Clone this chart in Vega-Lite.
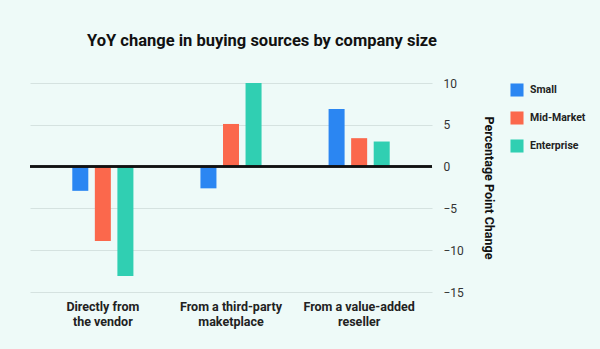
{
  "$schema": "https://vega.github.io/schema/vega-lite/v6.json",
  "width": 402,
  "height": 209,
  "autosize": {"type": "none"},
  "padding": {"left": 30, "top": 83, "right": 168, "bottom": 57},
  "background": "#eefaf8",
  "title": {
    "text": "YoY change in buying sources by company size",
    "font": "Roboto",
    "fontSize": 16.5,
    "fontWeight": "bold",
    "color": "#111111",
    "anchor": "middle",
    "dx": 31,
    "offset": 28
  },
  "data": {
    "values": [
      {"source": "Directly from the vendor", "size": "Small", "change": -2.9},
      {"source": "Directly from the vendor", "size": "Mid-Market", "change": -8.9},
      {"source": "Directly from the vendor", "size": "Enterprise", "change": -13.1},
      {"source": "From a third-party maketplace", "size": "Small", "change": -2.6},
      {"source": "From a third-party maketplace", "size": "Mid-Market", "change": 5.1},
      {"source": "From a third-party maketplace", "size": "Enterprise", "change": 10.0},
      {"source": "From a value-added reseller", "size": "Small", "change": 6.9},
      {"source": "From a value-added reseller", "size": "Mid-Market", "change": 3.4},
      {"source": "From a value-added reseller", "size": "Enterprise", "change": 3.0}
    ]
  },
  "config": {"view": {"stroke": null}},
  "layer": [
    {
      "mark": {"type": "bar"},
      "encoding": {
        "x": {
          "field": "source",
          "type": "nominal",
          "sort": null,
          "scale": {"paddingInner": 0.523, "paddingOuter": 0.33},
          "axis": {
            "title": null,
            "orient": "bottom",
            "domain": false,
            "ticks": false,
            "labelAngle": 0,
            "labelFont": "Roboto",
            "labelFontWeight": "bold",
            "labelFontSize": 12.5,
            "labelColor": "#222222",
            "labelPadding": 8,
            "labelLineHeight": 15,
            "labelExpr": "datum.value == 'Directly from the vendor' ? ['Directly from', 'the vendor'] : datum.value == 'From a third-party maketplace' ? ['From a third-party', 'maketplace'] : ['From a value-added', 'reseller']"
          }
        },
        "xOffset": {
          "field": "size",
          "type": "nominal",
          "sort": ["Small", "Mid-Market", "Enterprise"],
          "scale": {"paddingInner": 0.29, "paddingOuter": 0}
        },
        "y": {
          "field": "change",
          "type": "quantitative",
          "scale": {"domain": [-15, 10], "nice": false},
          "axis": {
            "orient": "right",
            "title": "Percentage Point Change",
            "titleFont": "Roboto",
            "titleFontWeight": "bold",
            "titleFontSize": 12.5,
            "titleColor": "#111111",
            "titleAngle": 90,
            "titlePadding": 18,
            "values": [-15, -10, -5, 0, 5, 10],
            "domain": false,
            "ticks": false,
            "labelFont": "Roboto",
            "labelFontSize": 12,
            "labelColor": "#333333",
            "labelPadding": 11,
            "gridColor": "#d5e2e0",
            "gridWidth": 1
          }
        },
        "color": {
          "field": "size",
          "type": "nominal",
          "sort": ["Small", "Mid-Market", "Enterprise"],
          "scale": {
            "domain": ["Small", "Mid-Market", "Enterprise"],
            "range": ["#2b86f2", "#fb684c", "#30cfb2"]
          },
          "legend": {
            "title": null,
            "orient": "none",
            "legendX": 480,
            "legendY": 0,
            "symbolType": "square",
            "symbolSize": 170,
            "symbolStrokeWidth": 0,
            "symbolOpacity": 1,
            "rowPadding": 14,
            "labelFont": "Roboto",
            "labelFontWeight": "bold",
            "labelFontSize": 10.5,
            "labelColor": "#222222",
            "labelOffset": 6
          }
        }
      }
    },
    {
      "mark": {"type": "rule", "color": "#111111", "strokeWidth": 1.5},
      "encoding": {"y": {"datum": 0}}
    }
  ]
}
